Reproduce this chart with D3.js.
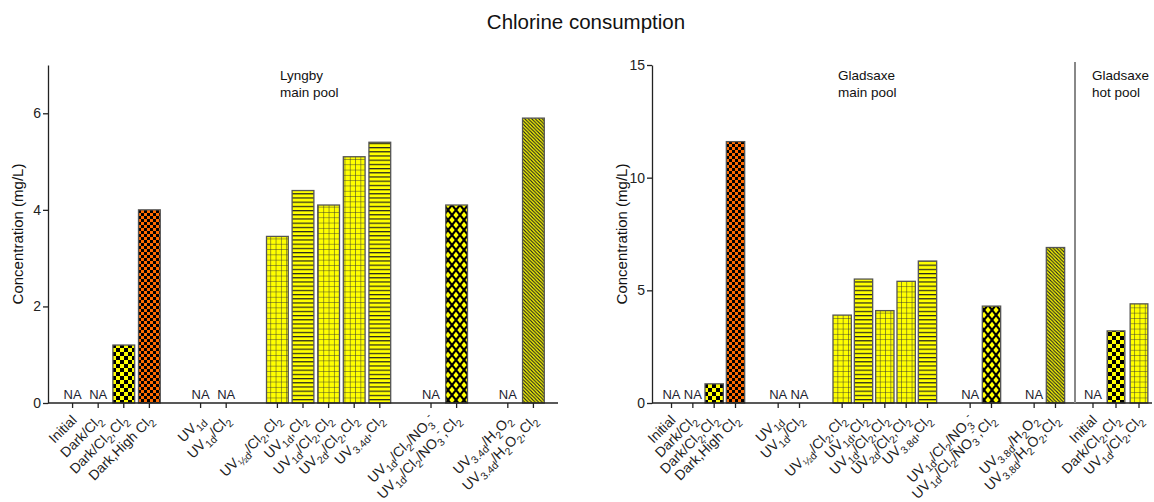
<!DOCTYPE html>
<html>
<head>
<meta charset="utf-8">
<script src="https://cdn.jsdelivr.net/npm/d3@7"></script>
<style>
  body { margin: 0; background: #fff; }
  svg { font-family: "Liberation Sans", Arial, sans-serif; }
</style>
</head>
<body>
<div id="graf"></div>
<script>
// Chlorine consumption - dos paneles (Lyngby / Gladsaxe)

// ---- datos ----
// _{..} = subíndice, ^{..} = superíndice
lyngbyLabels = ['Initial', 'Dark/Cl_{2}', 'Dark/Cl_{2},Cl_{2}', 'Dark,High Cl_{2}',
  'UV_{1d}', 'UV_{1d}/Cl_{2}',
  'UV_{½d}/Cl_{2},Cl_{2}', 'UV_{1d},Cl_{2}', 'UV_{1d}/Cl_{2},Cl_{2}', 'UV_{2d}/Cl_{2},Cl_{2}', 'UV_{3.4d},Cl_{2}',
  'UV_{1d}/Cl_{2}/NO_{3}^{-}', 'UV_{1d}/Cl_{2}/NO_{3}^{-},Cl_{2}',
  'UV_{3.4d}/H_{2}O_{2}', 'UV_{3.4d}/H_{2}O_{2},Cl_{2}']
lyngbyGroups = [0, 0, 0, 0, 1, 1, 2, 2, 2, 2, 2, 3, 3, 4, 4]
lyngbyValues = [null, null, 1.2, 4.0, null, null, 3.45, 4.4, 4.1, 5.1, 5.4, null, 4.1, null, 5.9]

gladMainLabels = ['Initial', 'Dark/Cl_{2}', 'Dark/Cl_{2},Cl_{2}', 'Dark,High Cl_{2}',
  'UV_{1d}', 'UV_{1d}/Cl_{2}',
  'UV_{½d}/Cl_{2},Cl_{2}', 'UV_{1d},Cl_{2}', 'UV_{1d}/Cl_{2},Cl_{2}', 'UV_{2d}/Cl_{2},Cl_{2}', 'UV_{3.8d},Cl_{2}',
  'UV_{1d}/Cl_{2}/NO_{3}^{-}', 'UV_{1d}/Cl_{2}/NO_{3}^{-},Cl_{2}',
  'UV_{3.8d}/H_{2}O_{2}', 'UV_{3.8d}/H_{2}O_{2},Cl_{2}']
gladMainGroups = [0, 0, 0, 0, 1, 1, 2, 2, 2, 2, 2, 3, 3, 4, 4]
gladMainValues = [null, null, 0.85, 11.6, null, null, 3.9, 5.5, 4.1, 5.4, 6.3, null, 4.3, null, 6.9]

gladHotLabels = ['Initial', 'Dark/Cl_{2},Cl_{2}', 'UV_{1d}/Cl_{2},Cl_{2}']
gladHotValues = [null, 3.2, 4.4]

lyngbyTicks = [0, 2, 4, 6]
gladTicks = [0, 5, 10, 15]

// tipo de tratamiento -> relleno
function patternFor(label) {
  if (label.startsWith('Dark,High')) return 'url(#checkO)'
  if (label.startsWith('Dark/Cl_{2},')) return 'url(#checkY)'
  if (label.includes('NO_{3}')) return 'url(#diamond)'
  if (label.includes('H_{2}O')) return 'url(#diag)'
  if (/UV_\{[^}]*\},Cl/.test(label)) return 'url(#hline)'
  return 'url(#grid)'
}

const W = 1154, H = 502
const baseY = 403, topY = 65
const LBL = 14

svg = d3.select('#graf').append('svg')
  .attr('width', W).attr('height', H)

// ---- patrones ----
defs = svg.append('defs')
function pat(id, w, h) {
  return defs.append('pattern').attr('id', id)
    .attr('patternUnits', 'userSpaceOnUse').attr('width', w).attr('height', h)
}
p = pat('checkY', 8, 8)
p.append('rect').attr('width', 8).attr('height', 8).attr('fill', '#ffff00')
p.append('rect').attr('width', 4).attr('height', 4).attr('fill', '#000')
p.append('rect').attr('x', 4).attr('y', 4).attr('width', 4).attr('height', 4).attr('fill', '#000')

p = pat('checkO', 6, 6)
p.append('rect').attr('width', 6).attr('height', 6).attr('fill', '#ff6a00')
p.append('rect').attr('width', 3).attr('height', 3).attr('fill', '#000')
p.append('rect').attr('x', 3).attr('y', 3).attr('width', 3).attr('height', 3).attr('fill', '#000')

p = pat('grid', 5.3, 5.3)
p.append('rect').attr('width', 5.3).attr('height', 5.3).attr('fill', '#ffff00')
p.append('path').attr('d', 'M0,0V5.3M0,0H5.3').attr('stroke', '#333').attr('stroke-width', 1)

p = pat('hline', 6, 4.2)
p.append('rect').attr('width', 6).attr('height', 4.2).attr('fill', '#ffff00')
p.append('path').attr('d', 'M0,0.6H6').attr('stroke', '#222').attr('stroke-width', 1.2)

p = pat('diamond', 8, 10)
p.append('rect').attr('width', 8).attr('height', 10).attr('fill', '#ffff00')
p.append('path').attr('d', 'M0,0L8,10M0,10L8,0')
  .attr('stroke', '#000').attr('stroke-width', 2.1)

p = pat('diag', 3.5, 3.5)
p.append('rect').attr('width', 3.5).attr('height', 3.5).attr('fill', '#ffff00')
p.append('path').attr('d', 'M-1,-1L4.5,4.5M-1,2.5L1,4.5M2.5,-1L4.5,1')
  .attr('stroke', '#222').attr('stroke-width', 1.1)

// ---- texto con sub/superíndices ----
function rich(sel, str) {
  parts = str.split(/(_\{[^}]*\}|\^\{[^}]*\})/).filter(s => s !== '')
  let shift = 0
  parts.forEach(s => {
    let target = 0, size = null, t = s
    if (s.startsWith('_{')) { target = 4; size = '0.75em'; t = s.slice(2, -1) }
    else if (s.startsWith('^{')) { target = -6; size = '0.75em'; t = s.slice(2, -1) }
    ts = sel.append('tspan').text(t).attr('dy', target - shift)
    if (size) ts.attr('font-size', size)
    shift = target
  })
}

// ---- panel ----
function panel(opts) {
  y = d3.scaleLinear().domain(opts.yDomain).range([baseY, topY])

  let slot = 0, slots = []
  opts.labels.forEach((l, i) => {
    if (i > 0 && opts.groups[i] !== opts.groups[i - 1]) slot++
    slots.push(slot)
    slot++
  })
  x = d3.scaleBand().domain(d3.range(slot)).range(opts.xRange)
    .paddingInner(opts.pi).paddingOuter(opts.po)

  drawBars(opts.labels, opts.values, slots, x, y)

  // eje y
  svg.append('g')
    .attr('transform', `translate(${opts.xRange[0]},0)`)
    .call(d3.axisLeft(y).tickValues(opts.ticks).tickFormat(d3.format('d'))
      .tickSize(5).tickSizeOuter(0).tickPadding(2))
    .call(g => g.selectAll('text').attr('font-size', 14).attr('fill', '#222').attr('font-family', null))
    .call(g => g.selectAll('line,path').attr('stroke', '#222').attr('stroke-width', 1.3))

  svg.append('text')
    .attr('transform', `translate(${opts.xRange[0] - 25},${(baseY + topY) / 2}) rotate(-90)`)
    .attr('text-anchor', 'middle').attr('font-size', 15).attr('fill', '#111')
    .text('Concentration (mg/L)')
  return { x, y, slots }
}

function drawBars(labels, values, slots, x, y) {
  rows = labels.map((l, i) => ({ l, v: values[i], s: slots[i] }))
  bars = rows.filter(d => d.v != null)
  svg.append('g').selectAll('rect').data(bars).join('rect')
    .attr('x', d => x(d.s)).attr('width', x.bandwidth())
    .attr('y', d => y(d.v)).attr('height', d => baseY - y(d.v))
    .attr('fill', d => patternFor(d.l))
    .attr('stroke', '#555').attr('stroke-width', 1.3)

  svg.append('g').selectAll('text').data(rows.filter(d => d.v == null)).join('text')
    .attr('x', d => x(d.s) + x.bandwidth() / 2).attr('y', baseY - 4)
    .attr('text-anchor', 'middle').attr('font-size', 13).attr('fill', '#1c2230')
    .text('NA')

  // ticks y etiquetas del eje x
  ax = svg.append('g')
  rows.forEach(d => {
    cx = x(d.s) + x.bandwidth() / 2
    ax.append('line').attr('x1', cx).attr('x2', cx).attr('y1', baseY).attr('y2', baseY + 5)
      .attr('stroke', '#222').attr('stroke-width', 1.3)
    t = ax.append('text')
      .attr('transform', `translate(${cx + 5},${baseY + 18}) rotate(-45)`)
      .attr('text-anchor', 'end').attr('font-size', LBL).attr('fill', '#222')
    rich(t, d.l)
  })
}

// título
svg.append('text').attr('x', 586).attr('y', 29).attr('text-anchor', 'middle')
  .attr('font-size', 20.5).attr('fill', '#111').text('Chlorine consumption')

// Lyngby
panel({ labels: lyngbyLabels, groups: lyngbyGroups, values: lyngbyValues,
  yDomain: [0, 7], ticks: lyngbyTicks, xRange: [48, 558], pi: 0.15, po: 0.535 })
svg.append('line').attr('x1', 48).attr('x2', 558).attr('y1', baseY).attr('y2', baseY)
  .attr('stroke', '#222').attr('stroke-width', 1.3)

// Gladsaxe main
panel({ labels: gladMainLabels, groups: gladMainGroups, values: gladMainValues,
  yDomain: [0, 15], ticks: gladTicks, xRange: [652, 1075], pi: 0.14, po: 0.485 })

// Gladsaxe hot (mismo eje y)
xHot = d3.scaleBand().domain(d3.range(gladHotLabels.length)).range([1080, 1152])
  .paddingInner(0.23).paddingOuter(0.18)
drawBars(gladHotLabels, gladHotValues, d3.range(gladHotLabels.length), xHot, y)

svg.append('line').attr('x1', 652).attr('x2', 1152).attr('y1', baseY).attr('y2', baseY)
  .attr('stroke', '#222').attr('stroke-width', 1.3)
svg.append('line').attr('x1', 1075).attr('x2', 1075).attr('y1', 62).attr('y2', baseY)
  .attr('stroke', '#888').attr('stroke-width', 2)

// subtítulos
function sub(xp, l1, l2) {
  t = svg.append('text').attr('font-size', 13.5).attr('fill', '#111')
  t.append('tspan').attr('x', xp).attr('y', 80).text(l1)
  t.append('tspan').attr('x', xp).attr('y', 97).text(l2)
}
sub(280, 'Lyngby', 'main pool')
sub(838, 'Gladsaxe', 'main pool')
sub(1092, 'Gladsaxe', 'hot pool')
</script>
</body>
</html>
